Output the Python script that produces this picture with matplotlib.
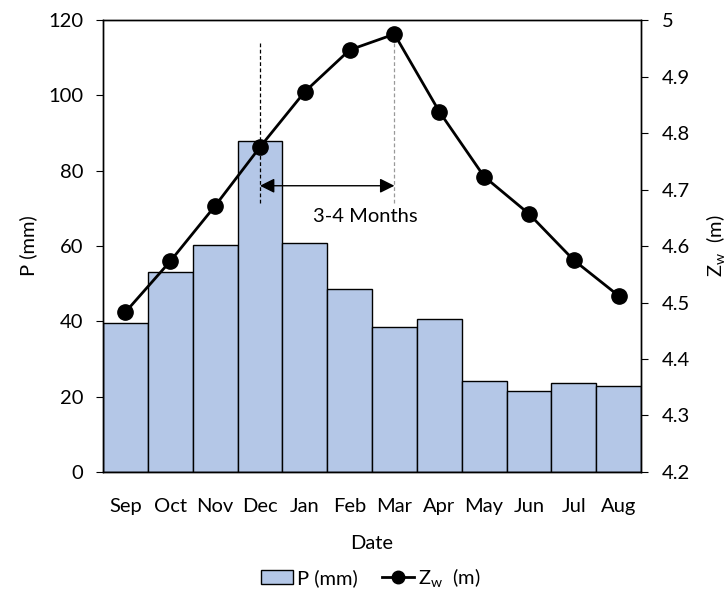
import numpy as np
import matplotlib.pyplot as plt
from matplotlib.lines import Line2D
from matplotlib.patches import Patch

plt.rcParams['font.family'] = ['Lato', 'DejaVu Sans']
plt.rcParams['font.size'] = 14.5
plt.rcParams['mathtext.fontset'] = 'custom'
plt.rcParams['mathtext.rm'] = 'Lato'
plt.rcParams['mathtext.it'] = 'Lato'

months = ['Sep', 'Oct', 'Nov', 'Dec', 'Jan', 'Feb', 'Mar', 'Apr', 'May', 'Jun', 'Jul', 'Aug']
precip = [39.6, 53.1, 60.2, 87.9, 60.8, 48.6, 38.4, 40.7, 24.2, 21.5, 23.6, 22.8]
zw = [4.483, 4.573, 4.671, 4.775, 4.873, 4.947, 4.975, 4.838, 4.723, 4.657, 4.575, 4.512]

x = np.arange(len(months))

fig = plt.figure(figsize=(7.27, 5.94), dpi=100)
ax = fig.add_axes([0.1417, 0.2054, 0.74, 0.7609])
ax.bar(x, precip, width=1.0, color='#B4C7E7', edgecolor='black', linewidth=1.0, zorder=1)
ax.set_xlim(-0.5, len(months) - 0.5)
ax.set_ylim(0, 120)
ax.set_yticks(range(0, 121, 20))
ax.set_xticks(x)
ax.set_xticklabels(months)
ax.tick_params(axis='x', length=0, pad=19)
ax.tick_params(axis='y', direction='out', length=5, pad=9)
ax.set_ylabel('P (mm)', labelpad=8)
ax.set_xlabel('Date', labelpad=14)

# lag markers
ax.plot([3, 3], [71.5, 114.5], ls=(0, (3, 2)), color='black', lw=0.9, zorder=3)
ax.plot([6, 6], [71.5, 114.5], ls=(0, (3, 2)), color='#999999', lw=0.9, zorder=3)
ax.annotate('', xy=(6, 76), xytext=(3, 76),
            arrowprops=dict(arrowstyle='<|-|>', color='black', lw=1.0,
                            mutation_scale=22, shrinkA=0, shrinkB=0), zorder=4)
ax.text(5.35, 67.8, '3-4 Months', ha='center', va='center')

ax2 = ax.twinx()
ax2.plot(x, zw, color='black', lw=2, marker='o', markersize=11, zorder=5)
ax2.set_ylim(4.2, 5.0)
ax2.set_yticks(np.round(np.arange(4.2, 5.01, 0.1), 1))
ax2.set_yticklabels(['4.2', '4.3', '4.4', '4.5', '4.6', '4.7', '4.8', '4.9', '5'])
ax2.tick_params(axis='y', direction='out', length=5, pad=10)
ax2.set_ylabel(r'Z$_{\mathrm{w}}$  (m)', labelpad=10)

for a in (ax, ax2):
    for s in a.spines.values():
        s.set_linewidth(1.0)
        s.set_color('black')

handles = [Patch(facecolor='#B4C7E7', edgecolor='black', label='P (mm)'),
           Line2D([], [], color='black', lw=2, marker='o', markersize=9,
                  label=r'Z$_{\mathrm{w}}$  (m)')]
fig.legend(handles=handles, loc='center', bbox_to_anchor=(0.51, 0.028), ncol=2,
           frameon=False, handlelength=1.6, handletextpad=0.2, columnspacing=1.2)

fig.savefig('out.png', dpi=100)
